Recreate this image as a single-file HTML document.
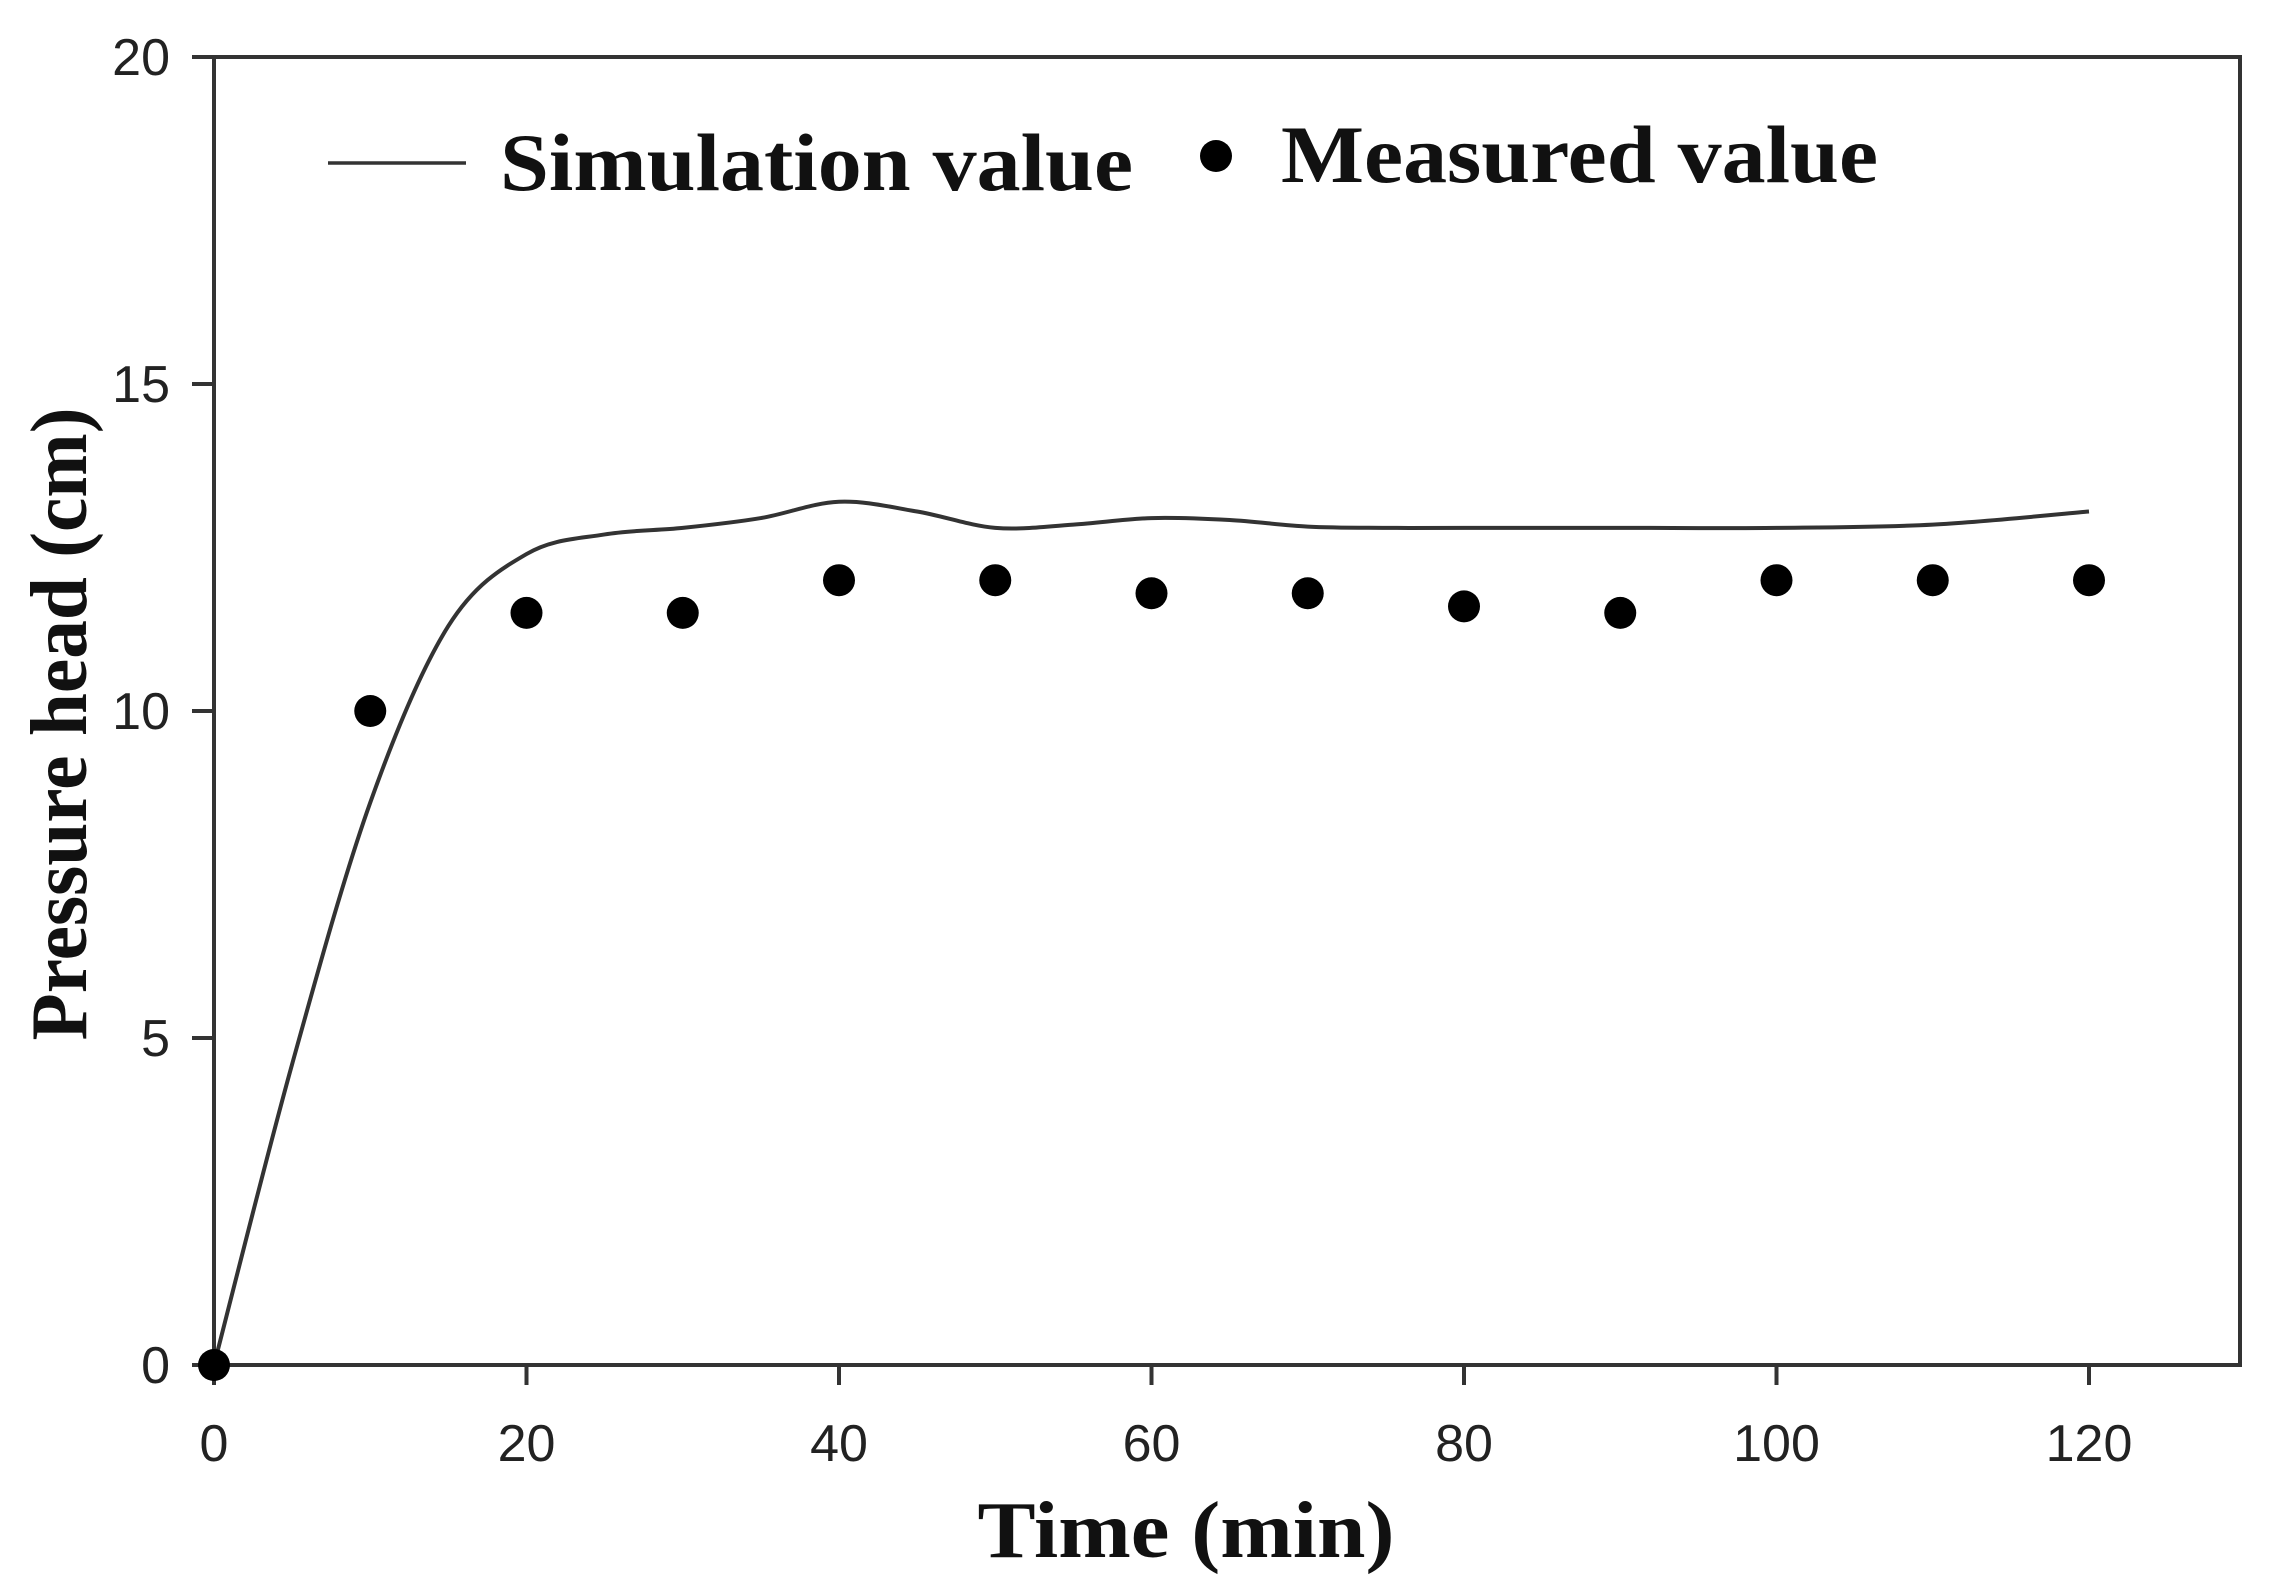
<!DOCTYPE html>
<html><head><meta charset="utf-8"><style>
html,body{margin:0;padding:0;background:#fff;}
svg{display:block;}
.tick{font-family:"Liberation Sans",Arial,sans-serif;font-size:52px;fill:#222;}
.ttl{font-family:"Liberation Serif","Times New Roman",serif;font-weight:bold;fill:#111;}
</style></head><body>
<svg id="chart" width="2274" height="1587" viewBox="0 0 2274 1587" xmlns="http://www.w3.org/2000/svg">
<rect x="0" y="0" width="2274" height="1587" fill="#fff"/>
<g id="axes"></g>
<g id="series"></g>
<g>
<line x1="328" y1="163" x2="466" y2="163" stroke="#333" stroke-width="3.5"/>
<text class="ttl" x="500" y="190" font-size="82" textLength="633" lengthAdjust="spacingAndGlyphs">Simulation value</text>
<circle cx="1216" cy="156" r="16" fill="#000"/>
<text class="ttl" x="1281" y="182" font-size="82" textLength="597" lengthAdjust="spacingAndGlyphs">Measured value</text>
</g>
<text class="ttl" x="1186" y="1557" font-size="80" text-anchor="middle" textLength="417" lengthAdjust="spacingAndGlyphs">Time (min)</text>
<text class="ttl" x="0" y="0" font-size="80" text-anchor="middle" textLength="633" lengthAdjust="spacingAndGlyphs" transform="translate(86,724) rotate(-90)">Pressure head (cm)</text>
</svg>
<script>
const xTicks = [0, 20, 40, 60, 80, 100, 120];
const yTicks = [0, 5, 10, 15, 20];
const simTimes = [0, 5, 10, 15, 20, 25, 30, 35, 40, 45, 50, 55, 60, 65, 70, 75, 80, 90, 100, 110, 120];
const simValues = [0, 4.6, 8.6, 11.3, 12.4, 12.7, 12.8, 12.95, 13.2, 13.05, 12.8, 12.85, 12.95, 12.92, 12.82, 12.8, 12.8, 12.8, 12.8, 12.85, 13.05];
const measTimes = [0, 10, 20, 30, 40, 50, 60, 70, 80, 90, 100, 110, 120];
const measValues = [0, 10, 11.5, 11.5, 12, 12, 11.8, 11.8, 11.6, 11.5, 12, 12, 12];

const X0 = 214, X1 = 2089, XR = 2240, Y0 = 1365, Y1 = 57;
const xs = v => X0 + (v - 0) / 120 * (X1 - X0);
const ys = v => Y0 - v / 20 * (Y0 - Y1);
const NS = "http://www.w3.org/2000/svg";
function mk(tag, attrs, parent) {
  const e = document.createElementNS(NS, tag);
  for (const k in attrs) e.setAttribute(k, attrs[k]);
  parent.appendChild(e);
  return e;
}
const axes = document.getElementById('axes');
const series = document.getElementById('series');

const frame = mk('rect', {x: X0, y: Y1, width: XR - X0, height: Y0 - Y1, fill: 'none', stroke: '#333', 'stroke-width': 4}, axes);



xTicks.forEach(t => {
  const l = mk('line', {x1: xs(t), x2: xs(t), y1: Y0, y2: Y0 + 20, stroke: '#333', 'stroke-width': 4}, axes);
  
  
  const tx = mk('text', {x: xs(t), y: 1461, 'text-anchor': 'middle', class: 'tick'}, axes);
  tx.textContent = t;
  
  
});
yTicks.forEach(t => {
  const l = mk('line', {x1: X0 - 22, x2: X0, y1: ys(t), y2: ys(t), stroke: '#333', 'stroke-width': 4}, axes);
  
  
  const tx = mk('text', {x: 170, y: ys(t) + 18, 'text-anchor': 'end', class: 'tick'}, axes);
  tx.textContent = t;
  
  
});

const pts = simTimes.map((t, i) => [xs(t), ys(simValues[i])]);
let d = 'M' + pts[0][0] + ',' + pts[0][1];
for (let i = 0; i < pts.length - 1; i++) {
  const p0 = pts[i - 1] || pts[i], p1 = pts[i], p2 = pts[i + 1], p3 = pts[i + 2] || p2;
  const c1 = [p1[0] + (p2[0] - p0[0]) / 6, p1[1] + (p2[1] - p0[1]) / 6];
  const c2 = [p2[0] - (p3[0] - p1[0]) / 6, p2[1] - (p3[1] - p1[1]) / 6];
  d += ' C' + c1[0] + ',' + c1[1] + ' ' + c2[0] + ',' + c2[1] + ' ' + p2[0] + ',' + p2[1];
}
const path = mk('path', {d: d, fill: 'none', stroke: '#333', 'stroke-width': 4}, series);



measTimes.forEach((t, i) => {
  const c = mk('circle', {cx: xs(t), cy: ys(measValues[i]), r: 16, fill: '#000'}, series);
  
  
});
</script>
</body></html>
